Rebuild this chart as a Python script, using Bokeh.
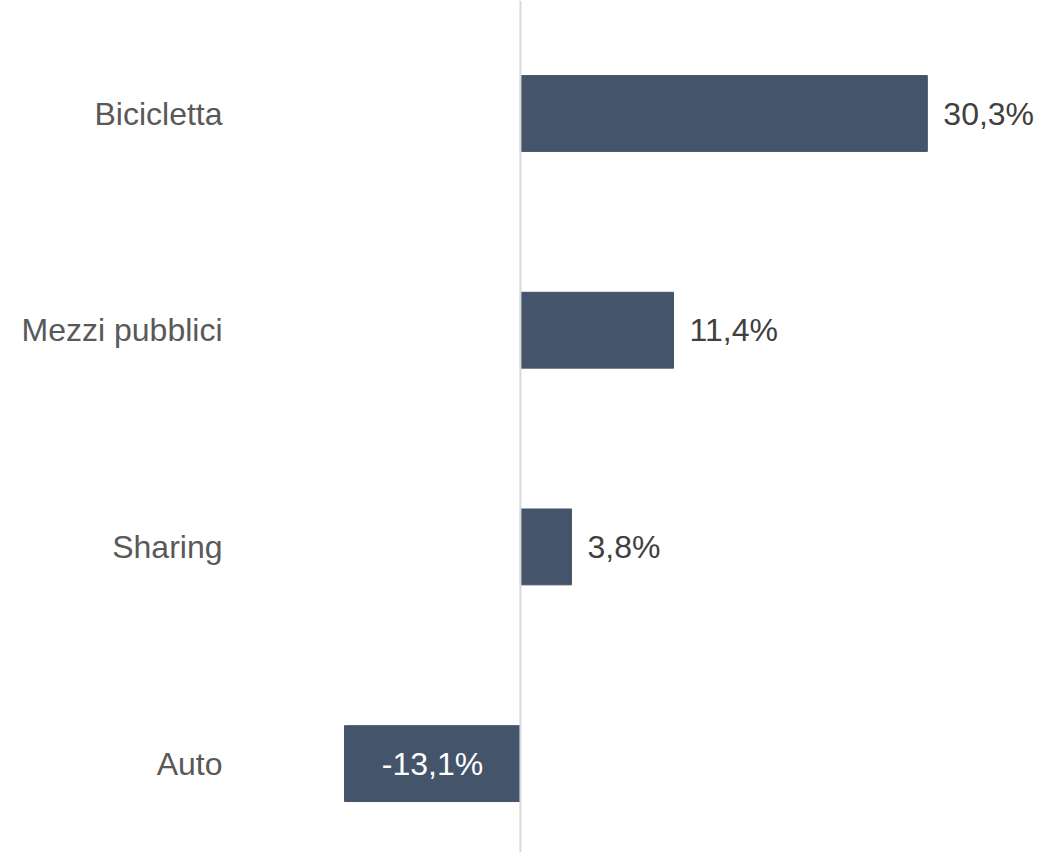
from bokeh.plotting import figure
from bokeh.models import Range1d, FixedTicker, Span, ColumnDataSource
from bokeh.core.properties import value
from bokeh.embed import file_html
from bokeh.resources import INLINE

categories = ["Bicicletta", "Mezzi pubblici", "Sharing", "Auto"]
values = [30.3, 11.4, 3.8, -13.1]

positions = [len(categories) - i for i in range(len(categories))]
labels = [f"{v:.1f}".replace(".", ",") + "%" for v in values]

FONT = "Liberation Sans"
BAR = "#44546A"

p = figure(width=1043, height=852, output_backend="svg", toolbar_location=None,
           x_range=Range1d(-21.44, 38.95), y_range=Range1d(0.5898, 4.5215),
           min_border_left=232, min_border_right=0, min_border_top=0, min_border_bottom=0)

src = ColumnDataSource(dict(y=positions, v=values))
p.hbar(y="y", left=0, right="v", height=0.35, color=BAR, source=src)

p.add_layout(Span(location=0, dimension="height", line_color="#d9d9d9", line_width=2))

pos_src = ColumnDataSource(dict(y=[y for y, v in zip(positions, values) if v >= 0],
                                v=[v for v in values if v >= 0],
                                lab=[l for l, v in zip(labels, values) if v >= 0]))
neg_src = ColumnDataSource(dict(y=[y for y, v in zip(positions, values) if v < 0],
                                v=[v / 2 for v in values if v < 0],
                                lab=[l for l, v in zip(labels, values) if v < 0]))
p.text(x="v", y="y", text="lab", source=pos_src, x_offset=16, text_align="left",
       text_baseline="middle", text_color="#404040", text_font=value(FONT),
       text_font_size="32px")
p.text(x="v", y="y", text="lab", source=neg_src, text_align="center",
       text_baseline="middle", text_color="#ffffff", text_font=value(FONT),
       text_font_size="32px")

p.xaxis.visible = False
p.yaxis.ticker = FixedTicker(ticks=positions)
p.yaxis.major_label_overrides = {y: c for y, c in zip(positions, categories)}
p.yaxis.major_label_text_font = FONT
p.yaxis.major_label_text_font_size = "32px"
p.yaxis.major_label_text_color = "#595959"
p.yaxis.major_label_standoff = 4
p.yaxis.axis_line_color = None
p.yaxis.major_tick_line_color = None
p.yaxis.minor_tick_line_color = None
p.xgrid.visible = False
p.ygrid.visible = False
p.outline_line_color = None

open("out.html", "w").write(file_html(p, INLINE))
